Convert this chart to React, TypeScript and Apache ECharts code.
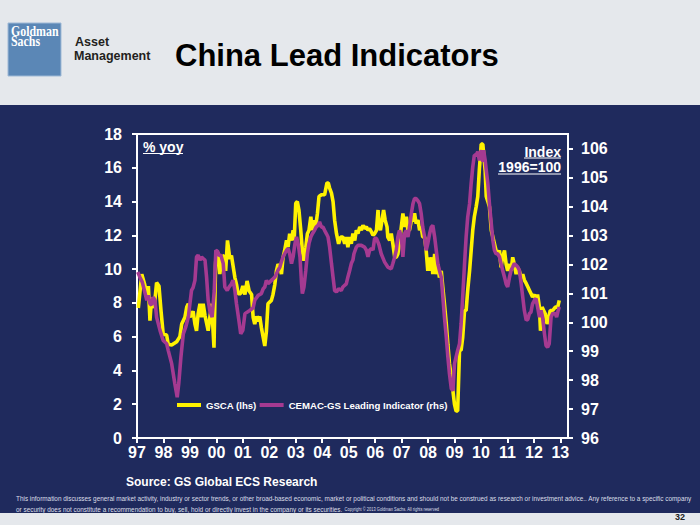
import React, { useEffect, useRef } from 'react';
import * as echarts from 'echarts';

// ---- data ----
const yearTicks = [1997, 1998, 1999, 2000, 2001, 2002, 2003, 2004, 2005, 2006, 2007, 2008, 2009, 2010, 2011, 2012, 2013];
const rhsTicks = [96, 97, 98, 99, 100, 101, 102, 103, 104, 105, 106];
const seriesNames = ['GSCA (lhs)', 'CEMAC-GS Leading Indicator (rhs)'];

// GSCA, % yoy (lhs) : [decimal year, value]
const gsca: [number, number][] = [
  [1997.05, 7.7], [1997.18, 9.7], [1997.28, 9.15], [1997.37, 8.55], [1997.43, 9.0], [1997.49, 6.95],
  [1997.55, 8.3], [1997.65, 7.7], [1997.74, 9.2], [1997.83, 9.0], [1997.91, 7.5], [1997.99, 6.15],
  [1998.12, 6.1], [1998.18, 5.55], [1998.31, 5.5], [1998.5, 5.7], [1998.62, 6.0], [1998.69, 6.75],
  [1998.81, 7.15], [1998.88, 7.75], [1998.94, 7.95], [1999.0, 7.15], [1999.12, 7.5], [1999.19, 6.75],
  [1999.25, 6.35], [1999.31, 7.35], [1999.38, 7.95], [1999.44, 7.15], [1999.5, 7.95], [1999.57, 7.25],
  [1999.69, 6.35], [1999.82, 7.95], [1999.91, 5.35], [1999.97, 10.3], [2000.0, 11.1], [2000.07, 10.9],
  [2000.13, 9.7], [2000.2, 10.7], [2000.3, 10.8], [2000.35, 9.9], [2000.42, 11.7], [2000.51, 10.6],
  [2000.57, 10.8], [2000.66, 9.9], [2000.7, 9.5], [2000.76, 9.1], [2000.82, 8.55], [2000.92, 8.55],
  [2001.0, 9.0], [2001.08, 8.5], [2001.16, 9.3], [2001.24, 8.7], [2001.33, 8.5], [2001.39, 7.15],
  [2001.45, 6.75], [2001.52, 7.2], [2001.58, 6.9], [2001.64, 7.2], [2001.7, 6.55], [2001.77, 5.95],
  [2001.83, 5.45], [2001.89, 6.3], [2001.95, 7.95], [2002.08, 8.15], [2002.14, 8.5], [2002.21, 9.1],
  [2002.27, 9.9], [2002.33, 10.3], [2002.4, 10.1], [2002.46, 9.7], [2002.52, 10.7], [2002.58, 11.1],
  [2002.65, 11.7], [2002.71, 11.3], [2002.77, 12.1], [2002.84, 11.7], [2002.9, 12.3], [2002.94, 11.7],
  [2003.0, 13.9], [2003.06, 14.0], [2003.12, 13.5], [2003.19, 12.3], [2003.25, 11.1], [2003.31, 10.5],
  [2003.38, 11.3], [2003.44, 12.1], [2003.5, 12.3], [2003.57, 13.1], [2003.63, 12.3], [2003.68, 12.9],
  [2003.75, 12.5], [2003.82, 13.3], [2003.88, 14.3], [2003.97, 14.4], [2004.09, 14.4], [2004.18, 15.1],
  [2004.23, 15.1], [2004.28, 14.8], [2004.35, 14.5], [2004.41, 14.0], [2004.47, 12.9], [2004.54, 12.1],
  [2004.62, 11.5], [2004.7, 11.9], [2004.78, 11.9], [2004.85, 11.5], [2004.91, 11.9], [2004.97, 11.3],
  [2005.04, 11.9], [2005.1, 11.5], [2005.16, 12.1], [2005.23, 11.7], [2005.29, 12.3], [2005.35, 12.1],
  [2005.42, 12.5], [2005.48, 12.3], [2005.54, 12.6], [2005.6, 12.4], [2005.67, 12.5], [2005.73, 12.3],
  [2005.79, 12.4], [2005.86, 12.2], [2005.92, 12.0], [2005.98, 12.1], [2006.05, 12.3], [2006.11, 13.5],
  [2006.14, 12.7], [2006.2, 12.3], [2006.26, 12.9], [2006.32, 13.5], [2006.38, 12.9], [2006.45, 12.5],
  [2006.48, 11.9], [2006.55, 11.7], [2006.61, 12.1], [2006.67, 11.5], [2006.74, 10.7], [2006.8, 10.7],
  [2006.86, 10.9], [2006.92, 11.5], [2006.99, 12.5], [2007.05, 13.3], [2007.11, 12.5], [2007.18, 13.1],
  [2007.24, 12.3], [2007.3, 12.3], [2007.37, 12.9], [2007.43, 12.9], [2007.49, 13.3], [2007.55, 12.7],
  [2007.62, 12.9], [2007.68, 12.3], [2007.74, 12.5], [2007.8, 11.9], [2007.87, 11.9], [2007.93, 11.1],
  [2007.99, 9.9], [2008.06, 10.7], [2008.09, 9.9], [2008.14, 10.7], [2008.18, 9.7], [2008.25, 10.9],
  [2008.31, 9.7], [2008.37, 10.3], [2008.43, 9.5], [2008.5, 9.9], [2008.56, 8.9], [2008.62, 7.95],
  [2008.69, 6.75], [2008.75, 5.55], [2008.81, 4.4], [2008.88, 3.6], [2008.94, 2.8], [2009.0, 2.0],
  [2009.06, 1.6], [2009.12, 1.6], [2009.19, 5.2], [2009.25, 5.2], [2009.31, 5.95], [2009.38, 7.55],
  [2009.44, 7.55], [2009.5, 8.75], [2009.57, 9.9], [2009.63, 11.1], [2009.69, 12.3], [2009.75, 13.1],
  [2009.82, 13.7], [2009.88, 14.3], [2009.94, 15.9], [2010.01, 17.4], [2010.07, 17.4], [2010.1, 16.9],
  [2010.16, 15.8], [2010.2, 14.3], [2010.26, 14.0], [2010.32, 13.7], [2010.39, 12.3], [2010.45, 11.9],
  [2010.51, 11.5], [2010.57, 11.1], [2010.63, 10.9], [2010.7, 11.1], [2010.76, 10.1], [2010.82, 10.7],
  [2010.89, 11.1], [2010.95, 10.3], [2011.01, 9.9], [2011.08, 10.3], [2011.14, 9.9], [2011.2, 10.7],
  [2011.26, 10.3], [2011.33, 9.7], [2011.39, 10.1], [2011.45, 9.9], [2011.52, 9.5], [2011.58, 9.7],
  [2011.64, 9.35], [2011.71, 9.15], [2011.77, 8.95], [2011.83, 8.75], [2011.89, 8.55], [2011.95, 8.35],
  [2012.02, 8.5], [2012.08, 8.15], [2012.14, 8.5], [2012.21, 7.75], [2012.25, 6.35], [2012.31, 7.75],
  [2012.37, 7.55], [2012.43, 7.35], [2012.5, 6.75], [2012.56, 7.15], [2012.62, 7.55], [2012.71, 7.55],
  [2012.81, 7.75], [2012.9, 7.75], [2012.96, 8.15],
];

// CEMAC-GS Leading Indicator, index 1996=100 (rhs) : [decimal year, value]
const cemac: [number, number][] = [
  [1997.03, 101.74], [1997.11, 101.56], [1997.2, 101.39], [1997.28, 101.1], [1997.37, 100.76], [1997.43, 100.93],
  [1997.49, 100.64], [1997.55, 100.6], [1997.61, 100.87], [1997.68, 100.76], [1997.74, 100.18], [1997.87, 99.72],
  [1997.99, 99.37], [1998.12, 99.26], [1998.18, 99.03], [1998.31, 98.57], [1998.43, 97.88], [1998.52, 97.41],
  [1998.58, 97.9], [1998.66, 98.8], [1998.75, 99.6], [1998.84, 99.83], [1998.94, 100.18], [1999.06, 101.1],
  [1999.12, 101.2], [1999.19, 101.45], [1999.25, 102.26], [1999.31, 102.32], [1999.38, 102.15], [1999.44, 102.26],
  [1999.5, 102.2], [1999.57, 102.15], [1999.63, 101.56], [1999.69, 100.76], [1999.75, 100.41], [1999.84, 100.18],
  [1999.92, 101.1], [1999.98, 102.49], [2000.05, 102.45], [2000.09, 102.32], [2000.17, 102.32], [2000.26, 102.03],
  [2000.32, 101.22], [2000.41, 101.1], [2000.48, 101.22], [2000.57, 101.33], [2000.63, 101.45], [2000.7, 101.1],
  [2000.76, 100.64], [2000.85, 100.07], [2000.92, 99.6], [2001.0, 99.72], [2001.08, 100.3], [2001.26, 100.41],
  [2001.39, 100.5], [2001.45, 100.76], [2001.58, 100.93], [2001.7, 100.99], [2001.77, 101.16], [2001.83, 101.22],
  [2001.89, 101.45], [2001.95, 101.33], [2002.08, 101.45], [2002.14, 101.5], [2002.21, 101.56], [2002.27, 101.68],
  [2002.33, 101.8], [2002.4, 101.91], [2002.46, 102.1], [2002.52, 102.26], [2002.58, 102.37], [2002.65, 102.49],
  [2002.71, 102.55], [2002.77, 102.37], [2002.84, 102.03], [2002.9, 102.26], [2002.97, 102.72], [2003.03, 102.95],
  [2003.09, 102.72], [2003.16, 102.26], [2003.22, 101.33], [2003.25, 100.99], [2003.31, 101.22], [2003.38, 101.8],
  [2003.44, 102.37], [2003.5, 102.72], [2003.57, 102.95], [2003.63, 103.06], [2003.71, 103.18], [2003.77, 103.29],
  [2003.84, 103.35], [2003.9, 103.47], [2003.97, 103.29], [2004.03, 103.29], [2004.09, 103.18], [2004.16, 103.06],
  [2004.22, 102.95], [2004.28, 102.6], [2004.35, 102.03], [2004.41, 101.56], [2004.47, 101.1], [2004.54, 101.05],
  [2004.62, 101.16], [2004.72, 101.1], [2004.78, 101.22], [2004.91, 101.33], [2004.97, 101.56], [2005.04, 101.8],
  [2005.1, 102.03], [2005.16, 102.15], [2005.2, 102.37], [2005.29, 102.6], [2005.35, 102.66], [2005.48, 102.66],
  [2005.6, 102.6], [2005.67, 102.49], [2005.73, 102.26], [2005.79, 102.49], [2005.86, 102.55], [2005.92, 102.5],
  [2005.98, 102.9], [2006.05, 102.9], [2006.14, 102.7], [2006.23, 102.37], [2006.36, 102.08], [2006.48, 101.91],
  [2006.61, 101.85], [2006.67, 102.03], [2006.74, 102.26], [2006.8, 102.49], [2006.86, 102.95], [2006.92, 103.18],
  [2006.99, 102.95], [2007.05, 102.26], [2007.11, 103.06], [2007.18, 103.18], [2007.24, 102.95], [2007.3, 103.29],
  [2007.37, 103.76], [2007.43, 104.1], [2007.49, 104.28], [2007.55, 104.28], [2007.62, 104.2], [2007.68, 104.1],
  [2007.74, 103.76], [2007.8, 103.29], [2007.87, 102.95], [2007.93, 102.49], [2007.99, 102.72], [2008.06, 103.06],
  [2008.12, 103.29], [2008.18, 103.35], [2008.25, 102.95], [2008.31, 102.49], [2008.37, 102.03], [2008.43, 101.8],
  [2008.5, 101.56], [2008.56, 100.87], [2008.62, 100.18], [2008.69, 99.49], [2008.75, 98.8], [2008.81, 98.22],
  [2008.88, 97.7], [2008.94, 97.64], [2009.0, 98.57], [2009.12, 99.03], [2009.19, 99.26], [2009.25, 99.95],
  [2009.31, 100.87], [2009.38, 102.03], [2009.44, 102.95], [2009.5, 103.64], [2009.57, 104.1], [2009.63, 104.8],
  [2009.69, 105.37], [2009.75, 105.78], [2009.82, 105.78], [2009.88, 105.9], [2009.94, 105.6], [2010.01, 105.95],
  [2010.07, 105.55], [2010.1, 105.95], [2010.16, 105.6], [2010.2, 105.26], [2010.26, 104.8], [2010.32, 104.1],
  [2010.39, 103.41], [2010.45, 102.84], [2010.51, 102.49], [2010.57, 102.37], [2010.63, 102.37], [2010.7, 102.26],
  [2010.76, 102.03], [2010.82, 101.8], [2010.89, 101.56], [2010.95, 101.33], [2011.01, 101.22], [2011.08, 101.56],
  [2011.14, 101.8], [2011.2, 101.91], [2011.26, 102.03], [2011.33, 101.97], [2011.39, 101.91], [2011.45, 101.8],
  [2011.52, 101.33], [2011.58, 100.87], [2011.64, 100.41], [2011.71, 100.07], [2011.77, 100.1], [2011.83, 100.3],
  [2011.89, 100.35], [2011.95, 100.64], [2012.02, 100.76], [2012.08, 100.82], [2012.14, 100.53], [2012.21, 100.18],
  [2012.27, 100.41], [2012.33, 100.18], [2012.4, 99.6], [2012.46, 99.2], [2012.52, 99.14], [2012.58, 99.26],
  [2012.65, 100.18], [2012.71, 100.3], [2012.81, 100.3], [2012.86, 100.18], [2012.92, 100.41], [2012.96, 100.53],
];

const FONT = '"Liberation Sans", Arial, sans-serif';
const NAVY = '#1F2A5D';
const YELLOW = '#FFF200';
const MAGENTA = '#A53A91';

const disclaimer1 =
  'This information discusses general market activity, industry or sector trends, or other broad-based economic, market or political conditions and should not be construed as research or investment advice.. Any reference to a specific company';
const disclaimer2 =
  'or security does not constitute a recommendation to buy, sell, hold or directly invest in the company or its securities.';
const copyright = 'Copyright \u00A9 2013 Goldman Sachs. All rights reserved';

export default function App() {
  const ref = useRef<HTMLDivElement>(null);

  useEffect(() => {
    if (!ref.current) return;
    const chart = echarts.init(ref.current, null, { renderer: 'svg' });
    const axisLine = { show: true, onZero: false, lineStyle: { color: '#ffffff', width: 2 } };
    const axisTickBase = { show: true, inside: false, length: 5, lineStyle: { color: '#ffffff', width: 2 } };
    const labelBase = { color: '#ffffff', fontWeight: 'bold', fontSize: 16, fontFamily: FONT };

    chart.setOption({
      animation: false,
      backgroundColor: '#E5E8EC',
      textStyle: { fontFamily: FONT },
      grid: {
        left: 137, right: 132, top: 134, bottom: 87,
        show: true, borderColor: '#ffffff', borderWidth: 2, backgroundColor: 'transparent',
      },
      legend: {
        left: 177, top: 400, padding: 0, icon: 'rect', itemWidth: 24, itemHeight: 4, itemGap: 3,
        data: seriesNames,
        textStyle: { color: '#ffffff', fontWeight: 'bold', fontSize: 9.6, fontFamily: FONT },
      },
      xAxis: {
        type: 'value', min: 1997, max: 2013.29,
        axisLine,
        axisTick: { ...axisTickBase, customValues: yearTicks },
        axisLabel: {
          ...labelBase, margin: 6, customValues: yearTicks,
          formatter: (v: number) => String(Math.round(v) % 100).padStart(2, '0'),
        },
        splitLine: { show: false },
      },
      yAxis: [
        {
          type: 'value', position: 'left', min: 0, max: 18, interval: 2,
          axisLine, axisTick: axisTickBase,
          axisLabel: { ...labelBase, margin: 15 },
          splitLine: { show: false },
        },
        {
          type: 'value', position: 'right', min: 96, max: 106.51,
          axisLine,
          axisTick: { ...axisTickBase, customValues: rhsTicks },
          axisLabel: { ...labelBase, margin: 13, customValues: rhsTicks },
          splitLine: { show: false },
        },
      ],
      series: [
        {
          name: seriesNames[0], type: 'line', yAxisIndex: 0, data: gsca, showSymbol: false,
          lineStyle: { color: YELLOW, width: 3.6 }, itemStyle: { color: YELLOW },
        },
        {
          name: seriesNames[1], type: 'line', yAxisIndex: 1, data: cemac, showSymbol: false,
          lineStyle: { color: MAGENTA, width: 3.6 }, itemStyle: { color: MAGENTA },
        },
      ],
      graphic: {
        elements: [
          { type: 'rect', z: -10, shape: { x: 0, y: 105, width: 700, height: 408 }, style: { fill: NAVY } },
          // logo
          { type: 'rect', z: 10, shape: { x: 8, y: 23, width: 53, height: 53 }, style: { fill: '#5B87B6', stroke: '#9FB9D6', lineWidth: 1 } },
          { type: 'text', z: 11, x: 11, y: 31.5, scaleX: 0.85, style: { text: 'Goldman', fill: '#ffffff', font: 'bold 14px "Liberation Serif", serif', textAlign: 'left', textVerticalAlign: 'middle' } },
          { type: 'text', z: 11, x: 11, y: 41, scaleX: 0.85, style: { text: 'Sachs', fill: '#ffffff', font: 'bold 14px "Liberation Serif", serif', textAlign: 'left', textVerticalAlign: 'middle' } },
          { type: 'text', z: 11, x: 75, y: 42, style: { text: 'Asset', fill: '#231F20', font: 'bold 12.5px ' + FONT, textAlign: 'left', textVerticalAlign: 'middle' } },
          { type: 'text', z: 11, x: 74, y: 55.5, style: { text: 'Management', fill: '#231F20', font: 'bold 12.5px ' + FONT, textAlign: 'left', textVerticalAlign: 'middle' } },
          { type: 'text', z: 11, x: 175, y: 55, style: { text: 'China Lead Indicators', fill: '#000000', font: 'bold 31px ' + FONT, textAlign: 'left', textVerticalAlign: 'middle' } },
          // in-plot annotations
          { type: 'text', z: 11, x: 143, y: 147, style: { text: '% yoy', fill: '#ffffff', font: 'bold 14px ' + FONT, textAlign: 'left', textVerticalAlign: 'middle' } },
          { type: 'line', z: 11, shape: { x1: 143, y1: 153.5, x2: 183, y2: 153.5 }, style: { stroke: '#ffffff', lineWidth: 1 } },
          { type: 'text', z: 11, x: 561, y: 151.5, style: { text: 'Index', fill: '#ffffff', font: 'bold 14px ' + FONT, textAlign: 'right', textVerticalAlign: 'middle' } },
          { type: 'line', z: 11, shape: { x1: 524, y1: 158, x2: 561, y2: 158 }, style: { stroke: '#ffffff', lineWidth: 1 } },
          { type: 'text', z: 11, x: 561, y: 167, style: { text: '1996=100', fill: '#ffffff', font: 'bold 14px ' + FONT, textAlign: 'right', textVerticalAlign: 'middle' } },
          { type: 'line', z: 11, shape: { x1: 498, y1: 174, x2: 561, y2: 174 }, style: { stroke: '#ffffff', lineWidth: 1 } },
          // footer
          { type: 'text', z: 11, x: 126, y: 482, style: { text: 'Source: GS Global ECS Research', fill: '#ffffff', font: 'bold 12px ' + FONT, textAlign: 'left', textVerticalAlign: 'middle' } },
          { type: 'text', z: 11, x: 16, y: 498, scaleX: 0.8, style: { text: disclaimer1, fill: '#DCDFE8', font: '8px ' + FONT, textAlign: 'left', textVerticalAlign: 'middle' } },
          {
            type: 'text', z: 11, x: 16, y: 509, scaleX: 0.8,
            style: {
              text: '{a|' + disclaimer2 + '} {b|' + copyright + '}', fill: '#DCDFE8', font: '8px ' + FONT,
              textAlign: 'left', textVerticalAlign: 'middle',
              rich: { a: { fontSize: 8, fill: '#DCDFE8', fontFamily: FONT }, b: { fontSize: 5, fill: '#DCDFE8', fontFamily: FONT } },
            },
          },
          { type: 'text', z: 11, x: 680, y: 517, style: { text: '32', fill: '#222222', font: 'bold 9px ' + FONT, textAlign: 'center', textVerticalAlign: 'middle' } },
        ],
      },
    });
    return () => chart.dispose();
  }, []);

  return <div ref={ref} style={{ position: 'absolute', left: 0, top: 0, width: 700, height: 525 }} />;
}
